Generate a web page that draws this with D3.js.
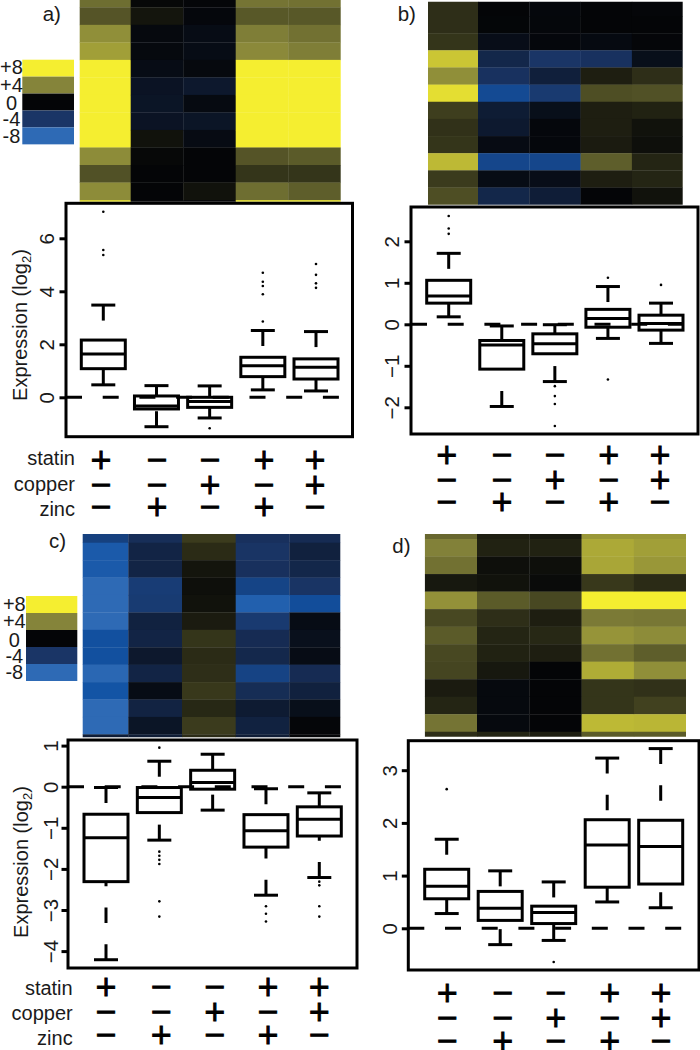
<!DOCTYPE html>
<html><head><meta charset="utf-8">
<script src="https://cdnjs.cloudflare.com/ajax/libs/d3/7.8.5/d3.min.js"></script>
<style>
html,body{margin:0;padding:0;background:#fff}
svg{display:block}
text{font-family:"Liberation Sans",Arial,sans-serif;fill:#1a1a1a}
</style></head><body>
<svg id="chart" width="700" height="1050"></svg>
<script>
// ---------- data ----------
const signRows = ["statin","copper","zinc"];
const statinSigns = ["+","−","−","+","+"];
const copperSigns = ["−","−","+","−","+"];
const zincSigns   = ["−","+","−","+","−"];
const legendLabels = ["+8","+4","0","-4","-8"];
const legendValues = [8,4,0,-4,-8];

// heatmap log2 values, one array per column
const heatA = [
 [3.3,2.5,4.4,5,8,8,8,8,8,4.3,2.4,4.3,7],
 [0.1,0.5,-0.3,-0.3,-0.6,-1.2,-1.3,-1.2,0.4,0.1,0,0,0],
 [-0.1,-0.2,-0.6,-0.6,-0.3,-1.6,-0.4,-1.3,-0.5,0,0,0.4,0],
 [3.5,2.6,3.8,4.2,8,8,8,8,8,2.5,1.5,3.3,7],
 [3.4,2.6,3.4,3.8,8,8,8,8,8,2.7,1.5,2.8,7]];
const heatB = [
 [1.3,1.3,1.5,6.5,4.4,7.4,1.8,1.4,1.5,6,1.7,2.3],
 [0,-0.05,-0.7,-2.8,-3.7,-5.8,-1.9,-1.7,-0.5,-5.5,-0.6,-2.8],
 [-0.2,-0.15,-0.2,-4,-2.2,-4.4,-0.8,-0.2,-0.2,-5.5,-0.7,-2],
 [0,0,-0.4,-3.7,0.8,2.3,0.8,0.8,0.7,2.8,0.8,0],
 [-0.1,0,-0.1,-0.8,1.3,2.4,0.9,0.4,0.3,1,1,0.4]];
const heatC = [
 [-5,-7,-7,-8,-8,-8,-6.3,-6.3,-7.8,-6.6,-8,-8,-2],
 [-3.4,-2.6,-2.6,-4.6,-4.5,-2.4,-2.6,-1.6,-2.6,-0.6,-2.5,-1.3,-2],
 [1.7,1.2,0.5,0.3,0.4,0.7,1.5,1.2,1.3,1.6,1.1,1.7,1.2],
 [-3.6,-3.9,-3.6,-5.3,-7.4,-4.4,-3.2,-2.9,-5.2,-3.3,-1.8,-2.4,-2],
 [-3.2,-2.3,-2.8,-3.9,-6.1,-0.6,-0.9,-0.6,-3.2,-2.3,-0.8,-0.1,-0.1]];
const heatD = [
 [3.1,3.9,3.4,0.6,4.5,2.1,2.7,2.1,2,0.7,1,3.5,1.3],
 [0.8,0.9,0.3,0.4,2.7,1.3,1,0.9,0.6,-0.3,-0.3,-0.3,1],
 [0.6,0.9,0.3,0.2,2.1,0.8,1.1,0.8,0,0,0,0,0.8],
 [4.7,5.4,5.3,1.6,8,3.7,4.6,3.4,5.5,1.5,1.5,6,2.7],
 [4.7,5,4.7,1.2,8,3.6,4.3,2.8,4.4,1.4,1.9,5.9,2.7]];

// boxplot statistics: [whisker low, q1, median, q3, whisker high]
const boxesA = [[0.47,1.08,1.63,2.16,3.48],[-1.11,-0.44,-0.33,0.05,0.44],[-0.78,-0.38,-0.16,0,0.43],[0.28,0.78,1.19,1.51,2.52],[0.24,0.69,1.13,1.45,2.48]];
const boxesB = [[0.18,0.51,0.68,1.06,1.71],[-1.98,-1.08,-0.5,-0.39,-0.04],[-1.38,-0.71,-0.47,-0.23,-0.01],[-0.34,-0.07,0.14,0.36,0.91],[-0.46,-0.14,0.02,0.22,0.51]];
const boxesC = [[-4.21,-2.31,-1.24,-0.67,-0.02],[-1.3,-0.63,-0.26,-0.02,0.62],[-0.57,-0.06,0.1,0.4,0.79],[-2.64,-1.47,-1.07,-0.68,-0.05],[-2.21,-1.2,-0.79,-0.49,-0.15]];
const boxesD = [[0.28,0.56,0.8,1.12,1.69],[-0.31,0.15,0.38,0.7,1.09],[-0.23,0.09,0.3,0.42,0.88],[0.5,0.78,1.58,2.06,3.23],[0.39,0.84,1.55,2.05,3.41]];

const outliersA = [[7,5.56,5.37],[],[-1.17],[4.7,4.36,4.2,3.89,2.86],[5.03,4.62,4.3,4.13]];
const outliersB = [[2.61,2.31,2.18],[],[-1.49,-1.73,-1.92,-2.45],[1.12,-1.33],[0.95]];
const outliersC = [[],[0.95,-1.58,-1.68,-1.78,-1.88,-2.79,-3.16],[],[-2.91,-3.09,-3.28],[-2.31,-2.4,-2.91,-3.16]];
const outliersD = [[2.64],[],[-0.64],[],[]];

const ticksA = [0,2,4,6];
const ticksB = [-2,-1,0,1,2];
const ticksC = [-4,-3,-2,-1,0,1];
const ticksD = [0,1,2,3];

// ---------- layout ----------
const panels = [
 {id:"a",letter:"a)",lx:42.7,ly:20.7,heat:heatA,boxes:boxesA,out:outliersA,ticks:ticksA,
  frame:[66,203.3,352.5,436.7],v0:397.3,vs:26.5,x1:103.3,x5:316,tickX:54,
  hx:78.2,hs:52.5,hy:-10.2,hh:17.52,clip:[79.7,0,340.7,201.7],
  signX:[101,157,210,264,315],signY:[460,485,507.3],
  side:{right:75,base:[465,490.7,516]},yl:{x:27,y:325},
  legend:{x:22.3,y:59.7,w:51.7,h:16.93,tx:11.5,base:[74,91.7,110,126,143.3]}},
 {id:"b",letter:"b)",lx:397.7,ly:20.7,heat:heatB,boxes:boxesB,out:outliersB,ticks:ticksB,
  frame:[411,207,698,434],v0:324.3,vs:41.5,x1:448.7,x5:661,tickX:399,
  hx:426.7,hs:51.3,hy:-1.15,hh:17.15,clip:[428,1.7,682.7,204.7],
  signX:[446.7,502,555,608.7,660],signY:[455,480,502.3]},
 {id:"c",letter:"c)",lx:49,ly:548.3,heat:heatC,boxes:boxesC,out:outliersC,ticks:ticksC,
  frame:[68,740,357,968],v0:786.7,vs:41.1,x1:106,x5:319.3,tickX:58,
  hx:74.6,hs:53.7,hy:525.3,hh:17.42,clip:[82.7,534,340.3,737.3],
  signX:[106,161.3,214.7,268,319.3],signY:[987.7,1012.7,1035],
  side:{right:72.7,base:[995,1020,1045]},yl:{x:28,y:862},
  legend:{x:26,y:596,w:51.3,h:17,tx:14.3,base:[610.7,628.3,646.7,663.3,679.3]}},
 {id:"d",letter:"d)",lx:392.3,ly:553.3,heat:heatD,boxes:boxesD,out:outliersD,ticks:ticksD,
  frame:[408.3,740.7,699,970],v0:928.3,vs:52.7,x1:446.7,x5:660.7,tickX:397,
  hx:424.7,hs:52.3,hy:521.5,hh:17.52,clip:[424.7,534,686,736.7],
  signX:[447.3,502.7,555.7,609.7,661],signY:[993.3,1018.3,1041]}
];

const color = d3.scaleLinear()
  .domain([-8,-6.5,-4,0,4,8])
  .range(["#2e6ab5","#1152a4","#1a3566","#040507","#85843a","#f5ee30"])
  .clamp(true);

const svg = d3.select("#chart");
const LW = 3;
const boxHalf = 22, capHalf = 12;
const dash = "15.5 21.2";

panels.forEach(p=>{
  const g = svg.append("g").attr("class","panel-"+p.id);
  // heatmap
  const [cx0,cy0,cx1,cy1] = p.clip;
  svg.append("clipPath").attr("id","clip-"+p.id).append("rect")
    .attr("x",cx0).attr("y",cy0).attr("width",cx1-cx0).attr("height",cy1-cy0);
  const nRows = p.heat[0].length;
  const hxS = d3.scaleBand().domain(d3.range(5)).range([p.hx,p.hx+5*p.hs]);
  const hyS = d3.scaleBand().domain(d3.range(nRows)).range([p.hy,p.hy+nRows*p.hh]);
  const hg = g.append("g").attr("clip-path",`url(#clip-${p.id})`);
  p.heat.forEach((col,i)=>{
    hg.selectAll(null).data(col).join("rect")
      .attr("x",hxS(i)).attr("y",(d,r)=>hyS(r))
      .attr("width",hxS.bandwidth()+0.3).attr("height",hyS.bandwidth()+0.3)
      .attr("fill",d=>color(d));
  });

  // panel letter
  g.append("text").attr("x",p.lx).attr("y",p.ly).attr("font-size",20.5).text(p.letter);

  // scales
  const [fx0,fy0,fx1,fy1] = p.frame;
  const yS = d3.scaleLinear().domain([0,1]).range([p.v0,p.v0-p.vs]);
  const xS = d3.scaleLinear().domain([0,4]).range([p.x1,p.x5]);

  // zero line
  g.append("line").attr("x1",fx0).attr("x2",fx1).attr("y1",yS(0)).attr("y2",yS(0))
    .attr("stroke","#000").attr("stroke-width",LW).attr("stroke-dasharray","16 20.7");

  // boxes
  p.boxes.forEach((b,i)=>{
    const [lo,q1,med,q3,hi] = b, x = xS(i);
    const bg = g.append("g");
    const seg = (x1,y1,x2,y2,d)=>bg.append("line").attr("x1",x1).attr("y1",y1).attr("x2",x2).attr("y2",y2)
      .attr("stroke","#000").attr("stroke-width",LW).attr("stroke-dasharray",d||null);
    seg(x,yS(hi),x,yS(q3),dash);
    seg(x,yS(lo),x,yS(q1),dash);
    seg(x-capHalf,yS(hi),x+capHalf,yS(hi));
    seg(x-capHalf,yS(lo),x+capHalf,yS(lo));
    bg.append("rect").attr("x",x-boxHalf).attr("width",2*boxHalf)
      .attr("y",yS(q3)).attr("height",yS(q1)-yS(q3))
      .attr("fill","none").attr("stroke","#000").attr("stroke-width",LW);
    seg(x-boxHalf,yS(med),x+boxHalf,yS(med));
    bg.selectAll("circle").data(p.out[i]).join("circle")
      .attr("cx",x).attr("cy",d=>yS(d)).attr("r",1.3).attr("fill","#000");
  });

  // frame
  g.append("rect").attr("x",fx0).attr("y",fy0).attr("width",fx1-fx0).attr("height",fy1-fy0)
    .attr("fill","none").attr("stroke","#000").attr("stroke-width",LW);

  // y axis ticks
  const axis = d3.axisLeft(yS).tickValues(p.ticks).tickSize(0).tickFormat(d=>String(d).replace("-","−"));
  const ag = g.append("g").attr("transform",`translate(${fx0},0)`).call(axis);
  ag.select(".domain").remove();
  ag.selectAll(".tick line").attr("x1",-6.5).attr("x2",0).attr("stroke","#000").attr("stroke-width",LW);
  const dx = p.tickX - fx0;
  ag.selectAll(".tick text")
    .attr("transform",`translate(${dx},0) rotate(-90)`)
    .attr("x",0).attr("y",0).attr("dy",0)
    .attr("text-anchor","middle").attr("font-size",20.5)
    .attr("font-family",'"Liberation Sans",Arial,sans-serif').attr("fill","#1a1a1a");

  // y label
  if(p.yl){
    const t = g.append("text").attr("transform",`translate(${p.yl.x},${p.yl.y}) rotate(-90)`)
      .attr("text-anchor","middle").attr("font-size",20);
    t.append("tspan").text("Expression (log");
    t.append("tspan").attr("font-size",13).attr("dy",3.5).text("2");
    t.append("tspan").attr("dy",-3.5).text(")");
  }

  // sign rows
  [statinSigns,copperSigns,zincSigns].forEach((row,r)=>{
    g.selectAll(null).data(row).join("text")
      .attr("x",(d,i)=>p.signX[i]).attr("y",p.signY[r]+8.6)
      .attr("text-anchor","middle").attr("font-size",27.5)
      .style("font-family",'"DejaVu Sans"')
      .style("fill","#000").attr("stroke","#000").attr("stroke-width",1)
      .text(d=>d);
  });
  if(p.side){
    signRows.forEach((s,r)=>{
      g.append("text").attr("x",p.side.right).attr("y",p.side.base[r])
        .attr("text-anchor","end").attr("font-size",20).text(s);
    });
  }

  // legend
  if(p.legend){
    const L = p.legend;
    const lyS = d3.scaleBand().domain(legendValues).range([L.y,L.y+5*L.h]);
    g.selectAll(null).data(legendValues).join("rect")
      .attr("x",L.x).attr("y",d=>lyS(d)).attr("width",L.w).attr("height",lyS.bandwidth())
      .attr("fill",d=>color(d));
    g.selectAll(null).data(legendLabels).join("text")
      .attr("x",L.tx).attr("y",(d,i)=>L.base[i]).attr("text-anchor","middle")
      .attr("font-size",20).text(d=>d);
  }
});
</script>
</body></html>
